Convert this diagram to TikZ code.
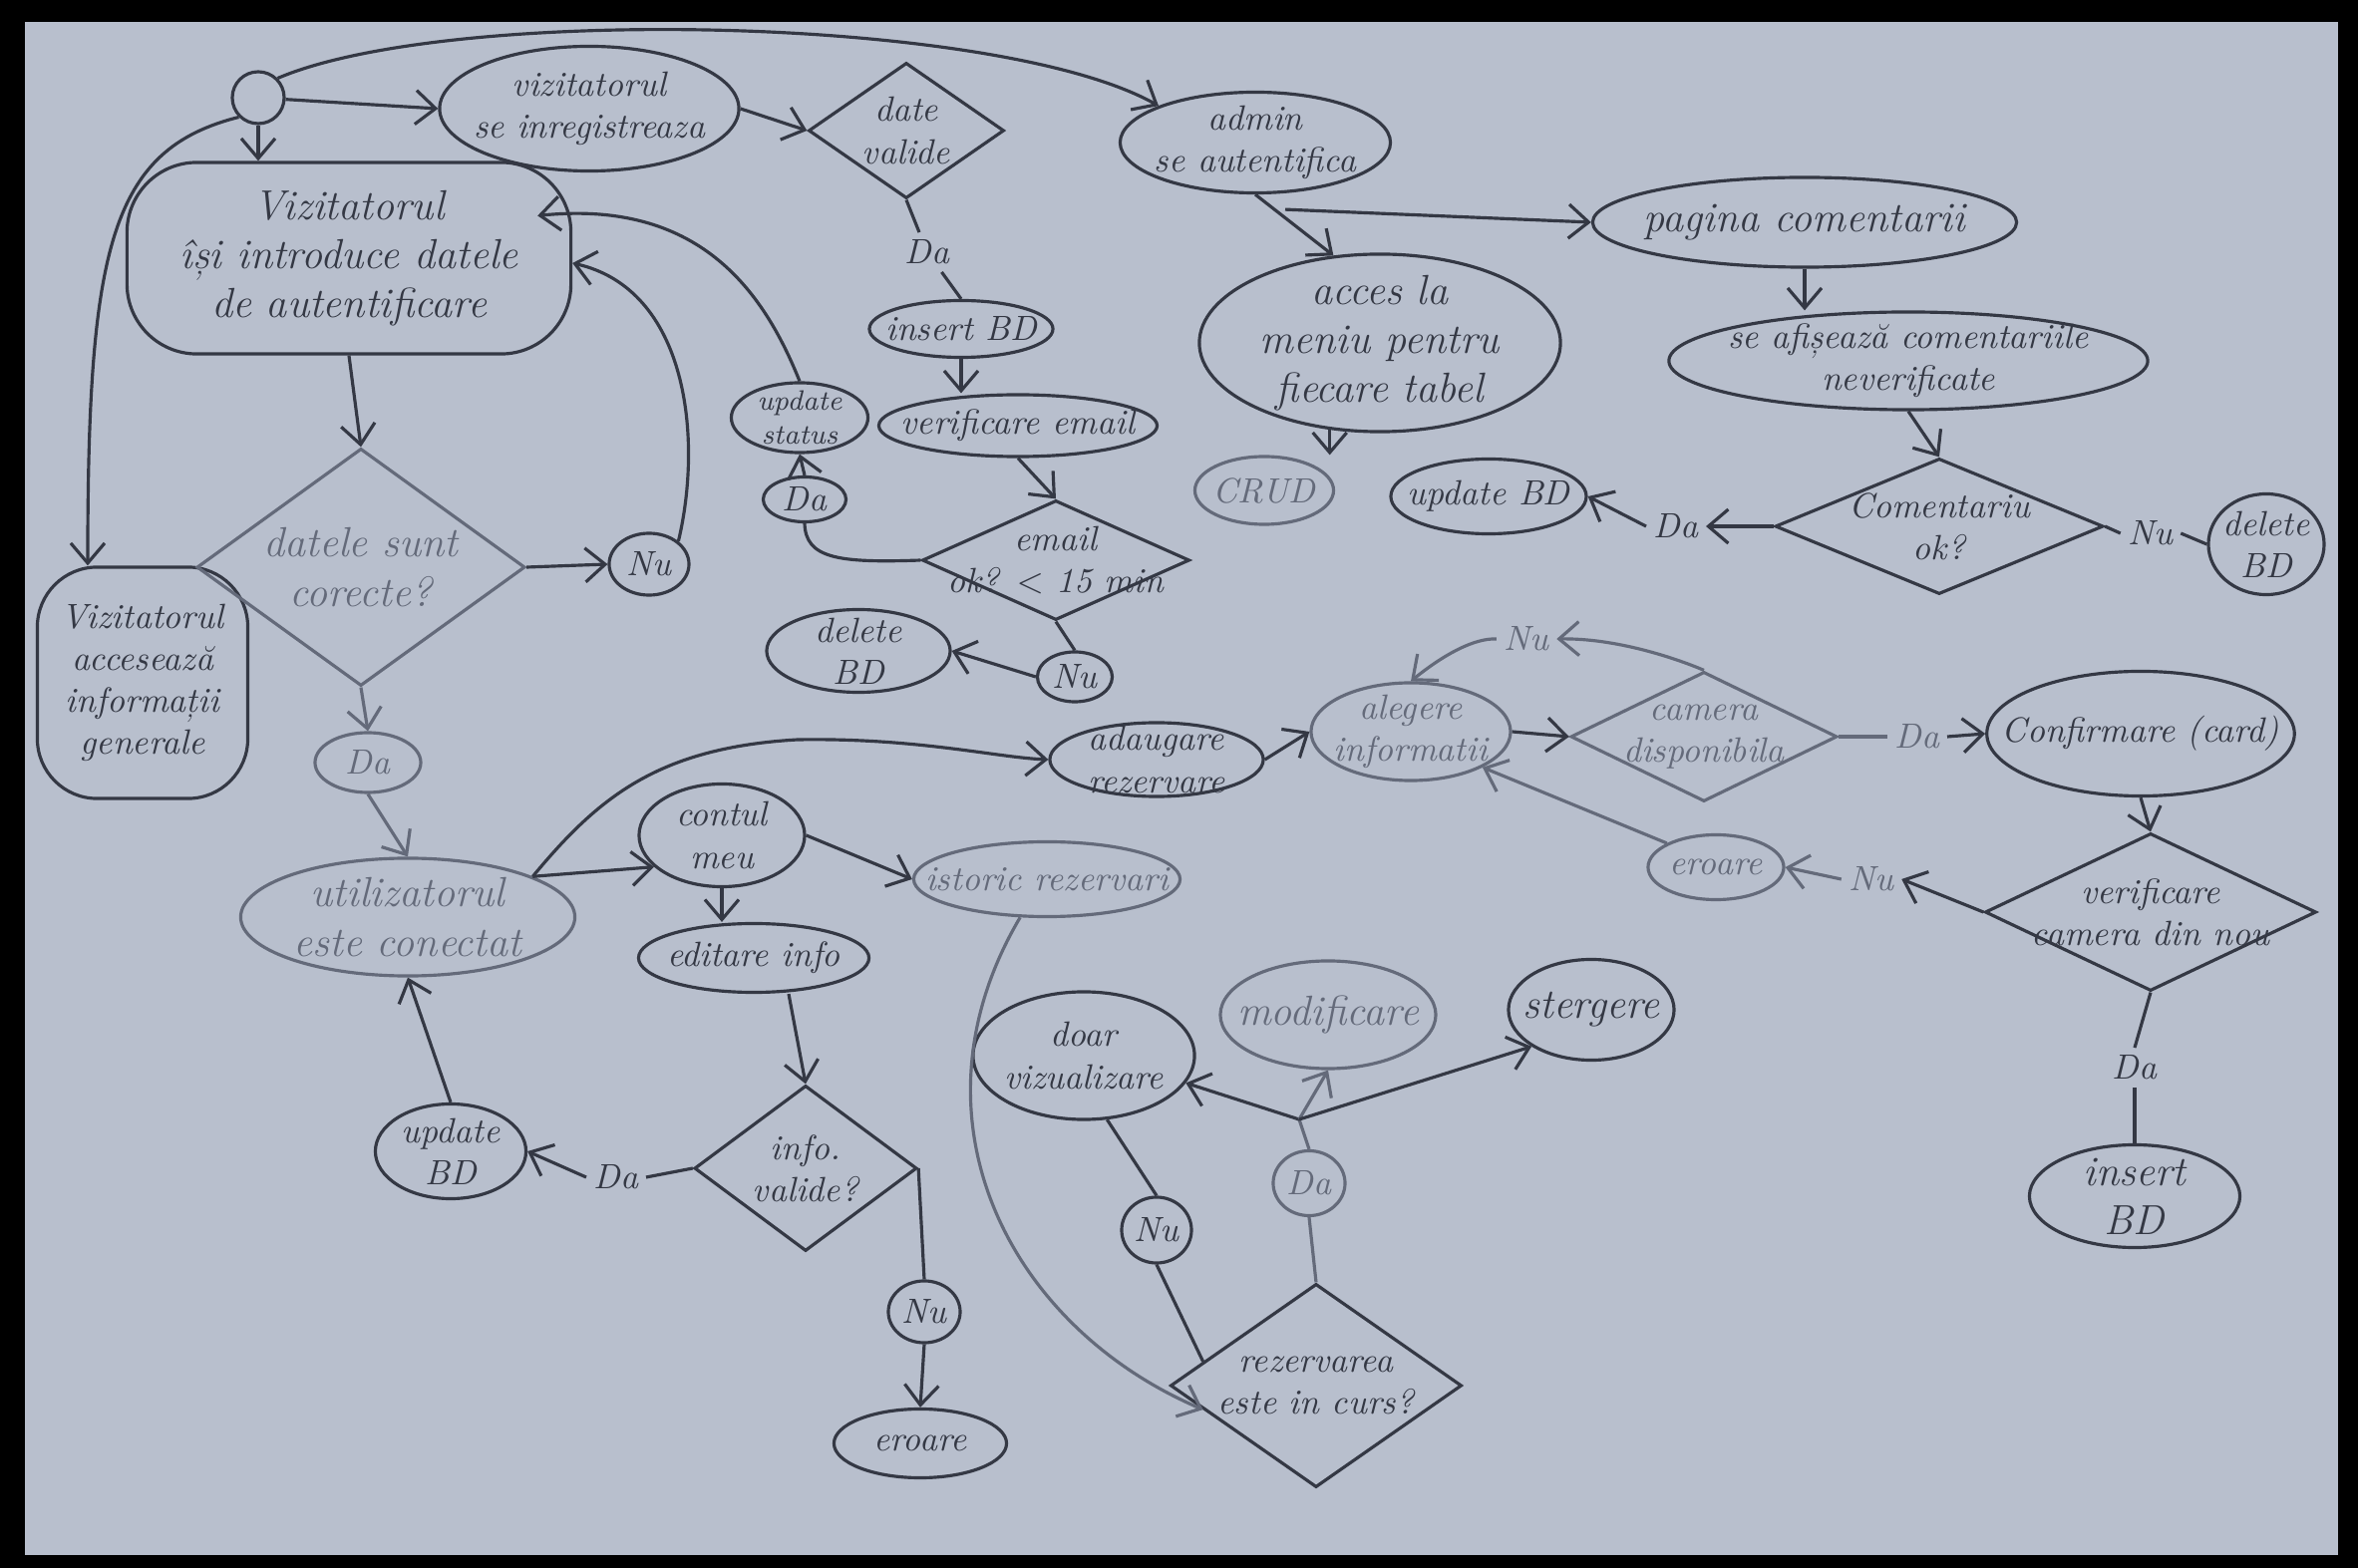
\documentclass[tikz,border=0pt]{standalone}
\usepackage{tikz}
\usetikzlibrary{arrows.meta,shapes.geometric,calc}

\definecolor{paper}{RGB}{184,191,205}
\definecolor{pencil}{RGB}{52,56,68}
\definecolor{faint}{RGB}{100,106,122}

\tikzset{
  blob/.style={ellipse, draw=pencil, text=pencil, line width=0.9pt, inner xsep=-3mm, inner ysep=-1.5mm, align=center, font=\itshape},
  roundbox/.style={rectangle, rounded corners=0.7cm, draw=pencil, text=pencil, line width=0.9pt, inner sep=0pt, align=center, font=\itshape\large},
  decision/.style={diamond, aspect=1.6, draw=pencil, text=pencil, line width=0.9pt, inner xsep=-4mm, inner ysep=-2mm, align=center, font=\itshape},
  answer/.style={ellipse, draw=pencil, text=pencil, line width=0.9pt, inner sep=0pt, font=\itshape},
  startdot/.style={circle, draw=pencil, line width=0.9pt, inner sep=0pt, minimum size=0.52cm},
  lbl/.style={text=pencil, inner sep=2pt, font=\itshape},
  arr/.style={draw=pencil, line width=0.9pt, -{Straight Barb[length=2mm,width=3.4mm]}},
  wire/.style={draw=pencil, line width=0.9pt},
  faded/.style={draw=faint, text=faint}
}

\begin{document}
\begin{tikzpicture}[x=0.01cm, y=-0.01cm]
\useasboundingbox (0,0) rectangle (2365,1573);
% Sheet of paper
\fill[black] (0,0) rectangle (2365,1573);
\fill[paper] (25,22) rectangle (2345,1560);

% Start and login
\node[startdot] (start) at (259,98) {};
\node[roundbox, minimum width=4.45cm, minimum height=1.92cm] (autent) at (350,259) {Vizitatorul\\își introduce datele\\de autentificare};
\node[roundbox, font=\itshape, rounded corners=0.6cm, minimum width=2.11cm, minimum height=2.32cm] (infogen) at (143,685) {Vizitatorul\\accesează\\informații\\generale};
\node[decision, faded, font=\itshape\large, minimum width=3.29cm, minimum height=2.38cm] (datecorecte) at (362,569) {datele sunt\\corecte?};
\node[answer, minimum width=0.8cm, minimum height=0.62cm] (nu1) at (651,566) {Nu};
\node[answer, faded, minimum width=1.06cm, minimum height=0.6cm] (da2) at (369,765) {Da};
\node[blob, faded, font=\itshape\large, minimum width=3.35cm, minimum height=1.18cm] (conectat) at (409,920) {utilizatorul\\este conectat};

% Registration
\node[blob, minimum width=3.0cm, minimum height=1.25cm] (inreg) at (591,109) {vizitatorul\\se inregistreaza};
\node[decision, aspect=1.4, minimum width=1.96cm, minimum height=1.36cm] (datevalide) at (909,131) {date\\valide};
\node[lbl] (lda1) at (930,253) {Da};
\node[blob, minimum width=1.84cm, minimum height=0.57cm] (insertbd) at (964,330) {insert BD};
\node[blob, minimum width=2.79cm, minimum height=0.62cm] (verifemail) at (1021,427) {verificare email};
\node[decision, aspect=2.2, minimum width=2.68cm, minimum height=1.2cm] (emailok) at (1059,562) {email\\ok? $<$ 15 min};
\node[answer, minimum width=0.83cm, minimum height=0.45cm] (da1) at (807,501) {Da};
\node[blob, font=\itshape\footnotesize, minimum width=1.37cm, minimum height=0.7cm] (updstatus) at (802,419) {update\\status};
\node[answer, minimum width=0.75cm, minimum height=0.5cm] (nu2) at (1078,679) {Nu};
\node[blob, minimum width=1.84cm, minimum height=0.83cm] (deletebd2) at (861,653) {delete\\BD};

% Admin
\node[blob, minimum width=2.71cm, minimum height=1.01cm] (admin) at (1259,143) {admin\\se autentifica};
\node[blob, font=\itshape\large, minimum width=3.62cm, minimum height=1.78cm] (accesmeniu) at (1384,344) {acces la\\meniu pentru\\fiecare tabel};
\node[blob, faded, minimum width=1.39cm, minimum height=0.68cm] (crud) at (1268,492) {CRUD};
\node[blob, font=\itshape\large, minimum width=4.25cm, minimum height=0.9cm] (paginacom) at (1810,223) {pagina comentarii};
\node[blob, minimum width=4.8cm, minimum height=0.98cm] (afisare) at (1914,362) {se afișează comentariile\\neverificate};
\node[decision, aspect=2.4, minimum width=3.29cm, minimum height=1.36cm] (comok) at (1945,528) {Comentariu\\ok?};
\node[lbl] (lda2) at (1681,528) {Da};
\node[blob, minimum width=1.96cm, minimum height=0.75cm] (updatebd) at (1493,498) {update BD};
\node[lbl] (lnu1) at (2157,535) {Nu};
\node[blob, minimum width=1.16cm, minimum height=1.01cm] (deletebd) at (2273,546) {delete\\BD};

% Account
\node[blob, minimum width=1.66cm, minimum height=1.03cm] (contul) at (724,838) {contul\\meu};
\node[blob, minimum width=2.31cm, minimum height=0.69cm] (editare) at (756,961) {editare info};
\node[blob, faded, minimum width=2.67cm, minimum height=0.75cm] (istoric) at (1050,882) {istoric rezervari};
\node[decision, aspect=1.3, minimum width=2.23cm, minimum height=1.66cm] (infovalide) at (808,1172) {info.\\valide?};
\node[lbl] (lda4) at (618,1181) {Da};
\node[blob, minimum width=1.51cm, minimum height=0.95cm] (updatebd2) at (452,1155) {update\\BD};
\node[answer, minimum width=0.72cm, minimum height=0.62cm] (nu3) at (927,1316) {Nu};
\node[blob, minimum width=1.73cm, minimum height=0.69cm] (eroare2) at (923,1448) {eroare};

% New booking
\node[blob, minimum width=2.14cm, minimum height=0.74cm] (adaugare) at (1160,762) {adaugare\\rezervare};
\node[blob, faded, minimum width=2.0cm, minimum height=0.98cm] (alegere) at (1415,734) {alegere\\informatii};
\node[decision, faded, aspect=2.0, minimum width=2.67cm, minimum height=1.3cm] (cameradisp) at (1709,739) {camera\\disponibila};
\node[lbl, text=faint] (lnu2) at (1531,641) {Nu};
\node[lbl, text=faint] (lda3) at (1923,739) {Da};
\node[blob, minimum width=2.9cm, minimum height=1.25cm] (confirmare) at (2147,736) {Confirmare (card)};
\node[decision, aspect=2.0, minimum width=3.32cm, minimum height=1.58cm] (verifcamera) at (2157,915) {verificare\\camera din nou};
\node[lbl, text=faint] (lnu3) at (1877,882) {Nu};
\node[blob, faded, minimum width=1.36cm, minimum height=0.65cm] (eroare1) at (1721,870) {eroare};
\node[lbl] (lda5) at (2141,1071) {Da};
\node[blob, font=\itshape\large, minimum width=2.11cm, minimum height=1.03cm] (insertbd2) at (2141,1200) {insert\\BD};

% Booking history
\node[decision, aspect=1.45, minimum width=2.92cm, minimum height=2.04cm] (incurs) at (1320,1390) {rezervarea\\este in curs?};
\node[answer, faded, minimum width=0.72cm, minimum height=0.65cm] (da3) at (1313,1187) {Da};
\node[answer, minimum width=0.7cm, minimum height=0.66cm] (nu4) at (1160,1234) {Nu};
\node[blob, minimum width=2.22cm, minimum height=1.28cm] (vizualizare) at (1087,1059) {doar\\vizualizare};
\node[blob, faded, font=\itshape\large, minimum width=2.16cm, minimum height=1.08cm] (modificare) at (1332,1018) {modificare};
\node[blob, font=\itshape\large, minimum width=1.66cm, minimum height=1.01cm] (stergere) at (1596,1013) {stergere};
\coordinate (split) at (1303,1123);

% Connectors from start
\draw[arr] (start) -- (inreg.west);
\draw[arr] (start) -- (start |- autent.north);
\draw[arr] (start.north east) .. controls (450,5) and (1000,15) .. (admin.north west);
\draw[arr] (start.south west) .. controls (110,150) and (88,250) .. ([xshift=-0.55cm]infogen.north);

% Registration connectors
\draw[arr] (inreg.east) -- (datevalide.west);
\draw[wire] (datevalide.south) -- (lda1);
\draw[wire] (lda1) -- (insertbd.north);
\draw[arr] (insertbd.south) -- (insertbd.south |- verifemail.north);
\draw[arr] (verifemail.south) -- (emailok.north);
\draw[wire] (emailok.west) .. controls (840,565) and (808,560) .. (da1.south);
\draw[arr] (da1.north) -- (updstatus.south);
\draw[arr] (updstatus.north) .. controls (765,290) and (700,200) .. ([xshift=-0.35cm,yshift=-0.55cm]autent.north east);
\draw[wire] (emailok.south) -- (nu2.north);
\draw[arr] (nu2.west) -- (deletebd2.east);

% Login connectors
\draw[arr] (autent.south) -- (datecorecte.north);
\draw[arr] (datecorecte.east) -- (nu1.west);
\draw[arr] (nu1.north east) .. controls (705,440) and (690,290) .. ([yshift=-0.05cm]autent.east);
\draw[arr, faded] (datecorecte.south) -- (da2.north);
\draw[arr, faded] (da2.south) -- (conectat.north);

% Admin connectors
\draw[arr] (admin.south) -- (accesmeniu.118);
\draw[arr] ([xshift=0.3cm,yshift=-0.15cm]admin.south) -- (paginacom.west);
\draw[arr] (accesmeniu.240) -- (accesmeniu.240 |- crud.north);
\draw[arr] (paginacom.south) -- (paginacom.south |- afisare.north);
\draw[arr] (afisare.south) -- (comok.north);
\draw[arr] (comok.west) -- (lda2.east);
\draw[arr] (lda2.west) -- (updatebd.east);
\draw[wire] (comok.east) -- (lnu1.west);
\draw[wire] (lnu1.east) -- (deletebd.west);

% Account connectors
\draw[arr] (conectat.18) -- (contul.205);
\draw[arr] (conectat.18) .. controls (600,800) and (660,750) .. (800,742) .. controls (920,740) and (1000,760) .. (adaugare.west);
\draw[arr] (contul.south) -- (contul.south |- editare.north);
\draw[arr] (contul.east) -- (istoric.west);
\draw[arr] ([xshift=0.35cm]editare.south) -- (infovalide.north);
\draw[wire] (infovalide.west) -- (lda4.east);
\draw[arr] (lda4.west) -- (updatebd2.east);
\draw[arr] (updatebd2.north) -- (conectat.south);
\draw[wire] (infovalide.east) -- (nu3.north);
\draw[arr] (nu3.south) -- (eroare2.north);

% Booking connectors
\draw[arr] (adaugare.east) -- (alegere.west);
\draw[arr] (alegere.east) -- (cameradisp.west);
\draw[arr, faded] (cameradisp.north) .. controls (1680,660) and (1620,640) .. (lnu2.east);
\draw[arr, faded] (lnu2.west) .. controls (1480,640) and (1450,655) .. (alegere.north);
\draw[wire, faded] (cameradisp.east) -- (lda3.west);
\draw[arr] (lda3.east) -- (confirmare.west);
\draw[arr] (confirmare.south) -- (verifcamera.north);
\draw[arr] (verifcamera.west) -- (lnu3.east);
\draw[arr, faded] (lnu3.west) -- (eroare1.east);
\draw[arr, faded] (eroare1.north west) -- (alegere.south east);
\draw[wire] (verifcamera.south) -- (lda5.north);
\draw[wire] (lda5.south) -- (insertbd2.north);

% History connectors
\draw[arr, faded] (istoric.235) .. controls (905,1120) and (1010,1330) .. (incurs.192);
\draw[wire, faded] (incurs.north) -- (da3.south);
\draw[wire, faded] (da3.north) -- (split);
\draw[arr] (split) -- (vizualizare.-15);
\draw[arr, faded] (split) -- (modificare.south);
\draw[arr] (split) -- (stergere.south west);
\draw[wire] (vizualizare.290) -- (nu4.north);
\draw[wire] (nu4.south) -- (incurs.168);
\end{tikzpicture}
\end{document}
